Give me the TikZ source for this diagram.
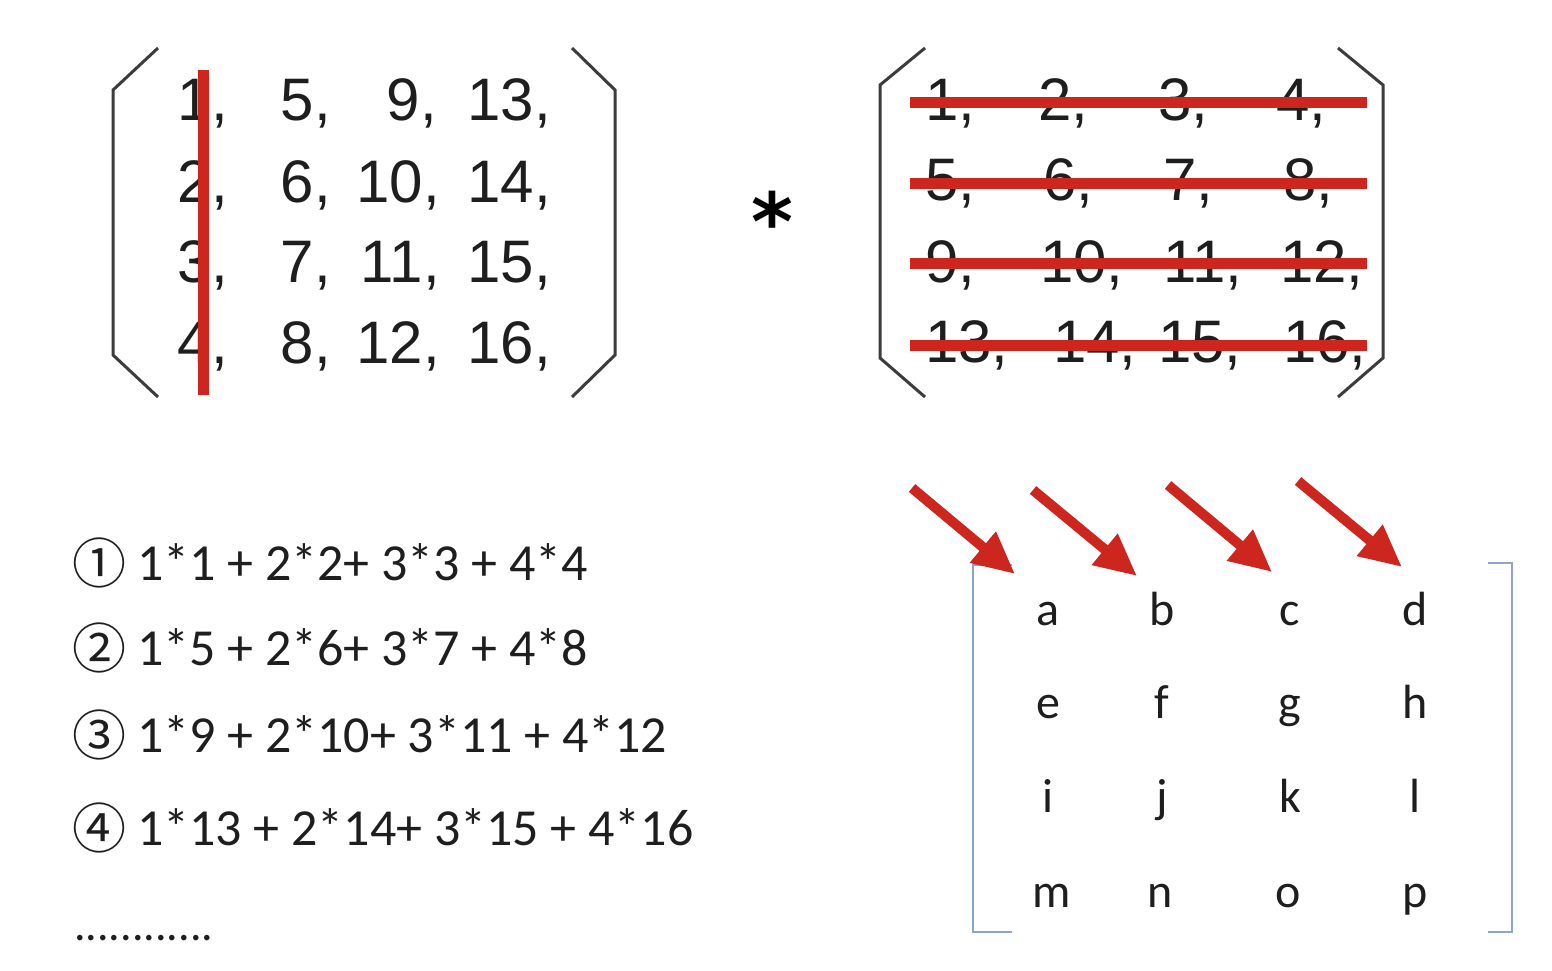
\documentclass[tikz,border=0pt]{standalone}
\usepackage{fontspec}
\setmainfont{Liberation Sans}
\newfontfamily\calib{Carlito}
\newfontfamily\dejavu{DejaVu Sans}
\newfontfamily\cjk{Noto Sans CJK SC}
\usetikzlibrary{arrows.meta}
\definecolor{redl}{RGB}{204,38,30}
\definecolor{brk}{RGB}{60,60,60}
\definecolor{txt}{RGB}{30,30,30}
\definecolor{bluebr}{RGB}{140,165,200}
\begin{document}
\begin{tikzpicture}[x=1pt,y=-1pt,
  num/.style={font=\fontsize{60}{60}\selectfont, text=txt, inner sep=0pt},
  numL/.style={num, anchor=base east},
  numR/.style={num, anchor=base west},
  eq/.style={font=\calib\fontsize{52}{52}\selectfont, text=txt, inner sep=0pt, anchor=base west},
  circ/.style={font=\cjk\fontsize{54}{54}\selectfont, text=txt, inner sep=0pt, anchor=base west},
  let/.style={font=\calib\fontsize{48}{48}\selectfont, text=txt, inner sep=0pt, anchor=base},
  bracket/.style={draw=brk, line width=3pt, line join=miter},
  thinbr/.style={draw=bluebr, line width=1.5pt},
  strike/.style={draw=redl, line width=11pt},
  redarrow/.style={draw=redl, line width=10pt, -{Triangle[length=42pt,width=38pt]}}
]
\useasboundingbox (0,0) rectangle (1552,970);
\fill[white] (0,0) rectangle (1552,970);

% ---------- left matrix ----------
\draw[bracket] (158,48) -- (113,90) -- (113,355) -- (158,397);
\draw[bracket] (572,48) -- (615,90) -- (615,355) -- (572,397);
\node[numL] (L11) at (228,120) {1,};
\node[numL] (L12) at (331,120) {5,};
\node[numL] (L13) at (437,120) {9,};
\node[numL] (L14) at (551,120) {13,};
\node[numL] (L21) at (228,202) {2,};
\node[numL] (L22) at (331,202) {6,};
\node[numL] (L23) at (440,202) {10,};
\node[numL] (L24) at (551,202) {14,};
\node[numL] (L31) at (228,282) {3,};
\node[numL] (L32) at (331,282) {7,};
\node[numL] (L33) at (440,282) {11,};
\node[numL] (L34) at (551,282) {15,};
\node[numL] (L41) at (228,363) {4,};
\node[numL] (L42) at (331,363) {8,};
\node[numL] (L43) at (440,363) {12,};
\node[numL] (L44) at (551,363) {16,};
\coordinate (vtop) at (203,70);
\coordinate (vbot) at (203,395);
\draw[strike] (vtop) -- (vbot);

% ---------- asterisk ----------
\node[font=\dejavu\bfseries\fontsize{80}{80}\selectfont, text=black, inner sep=0pt] (star) at (772,221) {*};

% ---------- right matrix ----------
\draw[bracket] (925,48) -- (880,85) -- (880,358) -- (925,397);
\draw[bracket] (1338,48) -- (1383,85) -- (1383,358) -- (1338,397);
\node[numR] (R11) at (925,120) {1,};
\node[numR] (R12) at (1038,120) {2,};
\node[numR] (R13) at (1158,120) {3,};
\node[numR] (R14) at (1276,120) {4,};
\node[numR] (R21) at (925,200) {5,};
\node[numR] (R22) at (1043,200) {6,};
\node[numR] (R23) at (1163,200) {7,};
\node[numR] (R24) at (1283,200) {8,};
\node[numR] (R31) at (925,282) {9,};
\node[numR] (R32) at (1040,282) {10,};
\node[numR] (R33) at (1163,282) {11,};
\node[numR] (R34) at (1280,282) {12,};
\node[numR] (R41) at (925,362) {13,};
\node[numR] (R42) at (1053,362) {14,};
\node[numR] (R43) at (1158,362) {15,};
\node[numR] (R44) at (1283,362) {16,};
\foreach \i/\y in {1/102,2/183,3/263,4/345}{
  \coordinate (hs\i) at (910,\y);
  \coordinate (he\i) at (1367,\y);
  \draw[strike] (hs\i) -- (he\i);
}

% ---------- equations ----------
\node[circ] (c1) at (72,583) {①};
\node[eq] (e1) at (137,580) {1*1 + 2*2+ 3*3 + 4*4};
\node[circ] (c2) at (72,668) {②};
\node[eq] (e2) at (137,665) {1*5 + 2*6+ 3*7 + 4*8};
\node[circ] (c3) at (72,755) {③};
\node[eq] (e3) at (137,752) {1*9 + 2*10+ 3*11 + 4*12};
\node[circ] (c4) at (72,848) {④};
\node[eq] (e4) at (137,845) {1*13 + 2*14+ 3*15 + 4*16};
\node[font=\calib\fontsize{46}{46}\selectfont, text=txt, inner sep=0pt, anchor=base west] (dots) at (74,940) {............};

% ---------- letter matrix ----------
\draw[thinbr] (1012,565) -- (973,565) -- (973,932) -- (1012,932);
\draw[thinbr] (1488,563) -- (1512,563) -- (1512,932) -- (1488,932);
\node[let] (la) at (1048,625) {a};
\node[let] (lb) at (1162,625) {b};
\node[let] (lc) at (1290,625) {c};
\node[let] (ld) at (1415,625) {d};
\node[let] (le) at (1048,718) {e};
\node[let] (lf) at (1162,718) {f};
\node[let] (lg) at (1290,718) {g};
\node[let] (lh) at (1415,718) {h};
\node[let] (li) at (1048,812) {i};
\node[let] (lj) at (1162,812) {j};
\node[let] (lk) at (1290,812) {k};
\node[let] (ll) at (1415,812) {l};
\node[let] (lm) at (1052,907) {m};
\node[let] (ln) at (1160,907) {n};
\node[let] (lo) at (1288,907) {o};
\node[let] (lp) at (1415,907) {p};

% ---------- arrows ----------
\coordinate (a1s) at (912,488);  \coordinate (a1e) at (1015,574);
\coordinate (a2s) at (1033,490); \coordinate (a2e) at (1137,576);
\coordinate (a3s) at (1168,485); \coordinate (a3e) at (1272,572);
\coordinate (a4s) at (1298,481); \coordinate (a4e) at (1402,567);
\draw[redarrow] (a1s) -- (a1e);
\draw[redarrow] (a2s) -- (a2e);
\draw[redarrow] (a3s) -- (a3e);
\draw[redarrow] (a4s) -- (a4e);
\end{tikzpicture}
\end{document}
